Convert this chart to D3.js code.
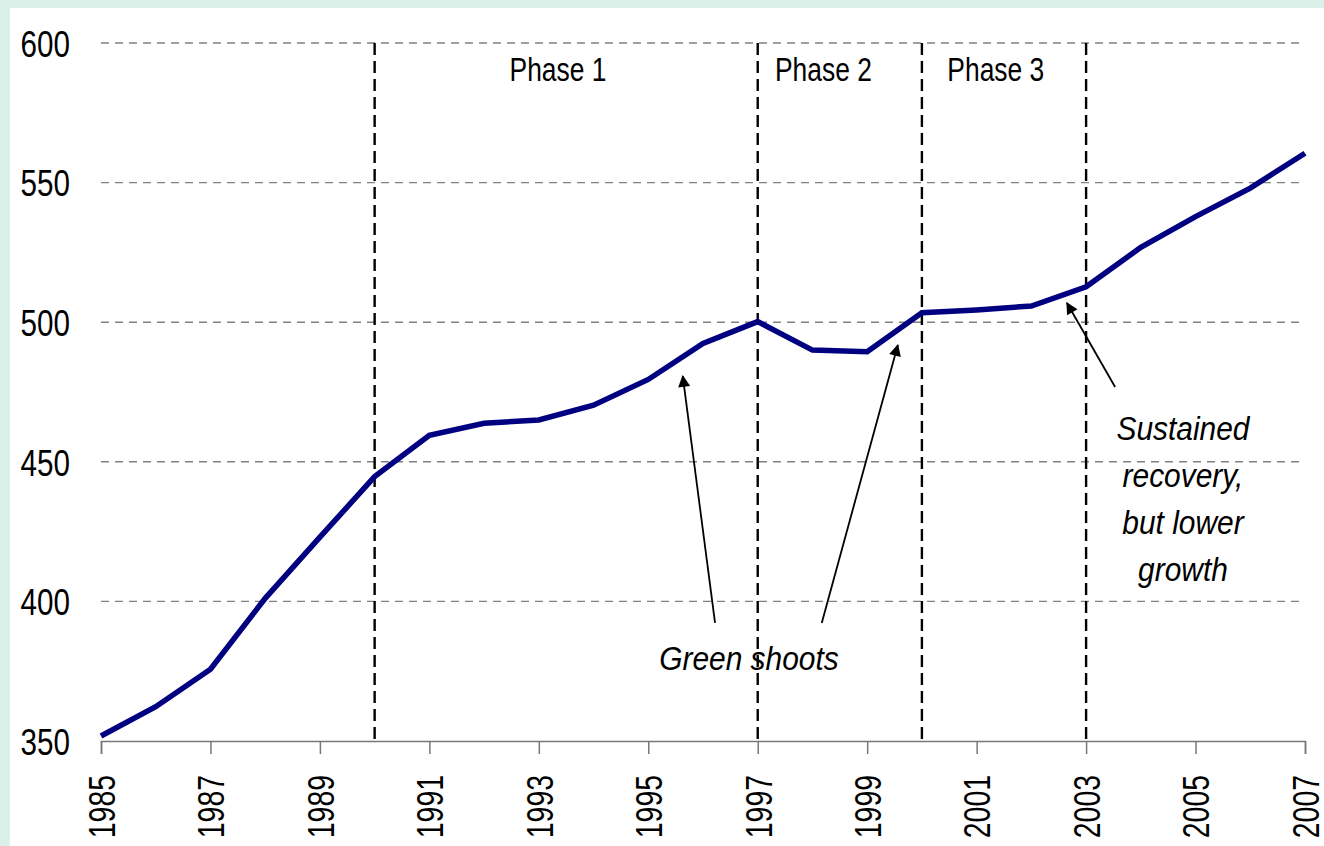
<!DOCTYPE html>
<html>
<head>
<meta charset="utf-8">
<script src="https://cdn.jsdelivr.net/npm/d3@7"></script>
<style>
  html, body { margin: 0; padding: 0; background: #daf0e8; overflow: hidden; }
  #chart { position: absolute; left: 10px; top: 8px; width: 1314px; height: 838px; background: #fff; }
  svg { display: block; }
  text { font-family: "Liberation Sans", Arial, sans-serif; fill: #000; }
</style>
</head>
<body>
<div id="chart"></div>
<script>
// data
const years = d3.range(1985, 2008);
const values = [351.8, 362.3, 375.7, 401.1, 423, 444.7, 459.5, 463.8, 465, 470.3, 479.5, 492.4,
                500.2, 490, 489.4, 503.4, 504.4, 505.8, 512.7, 526.8, 537.8, 548, 560.5];
const yTicks = [350, 400, 450, 500, 550, 600];
const xTicks = d3.range(1985, 2008, 2);
const phaseBreaks = [1990, 1997, 2000, 2003];
const phaseLabels = ["Phase 1", "Phase 2", "Phase 3"];
const phaseLabelYears = [1993.35, 1998.2, 2001.35];
const shootsArrows = [{from: [1996.22, 392.3], to: [1995.63, 480.7]}, {from: [1998.17, 392.3], to: [1999.56, 491.8]}];
const recoveryArrow = {from: [2003.53, 476.8], to: [2002.65, 506.9]};
const recoveryLines = ["Sustained", "recovery,", "but lower", "growth"];

const width = 1314, height = 838;
const margin = {top: 35, right: 19, bottom: 105, left: 91};
const w = width - margin.left - margin.right;
const h = height - margin.top - margin.bottom;

// the original uses a condensed face, so squeeze the text horizontally
const squeeze = 0.8;

let svg = d3.select("#chart").append("svg")
    .attr("width", width)
    .attr("height", height);

svg.append("defs").append("marker")
    .attr("id", "arrow")
    .attr("viewBox", "0 0 10 10")
    .attr("refX", 9).attr("refY", 5)
    .attr("markerWidth", 14).attr("markerHeight", 12)
    .attr("markerUnits", "userSpaceOnUse")
    .attr("orient", "auto")
    .append("path")
    .attr("d", "M0,0 L10,5 L0,10 z")
    .attr("fill", "#000");

let g = svg.append("g").attr("transform", `translate(${margin.left}, ${margin.top})`);

let x = d3.scaleLinear().domain([1985, 2007]).range([0, w]);
let y = d3.scaleLinear().domain([350, 600]).range([h, 0]);

// horizontal gridlines
g.append("g").selectAll("line")
    .data(yTicks.filter(d => d > 350))
    .enter().append("line")
    .attr("x1", 0).attr("x2", w)
    .attr("y1", d => y(d)).attr("y2", d => y(d))
    .attr("stroke", "#808080")
    .attr("stroke-width", 1.4)
    .attr("stroke-dasharray", "8,6");

// phase separators
g.append("g").selectAll("line")
    .data(phaseBreaks)
    .enter().append("line")
    .attr("x1", d => x(d)).attr("x2", d => x(d))
    .attr("y1", y(600)).attr("y2", h)
    .attr("stroke", "#000")
    .attr("stroke-width", 2.4)
    .attr("stroke-dasharray", "12,6");

// y axis
let yAxis = g.append("g")
    .call(d3.axisLeft(y).tickValues(yTicks).tickSize(0));
yAxis.select(".domain").remove();
yAxis.selectAll("text")
    .style("font-size", "37px")
    .style("font-family", "\"Liberation Sans\", Arial, sans-serif")
    .attr("x", 0)
    .attr("dy", "0.36em")
    .attr("transform", `translate(-31, 0) scale(${squeeze}, 1)`);

// x axis
let xAxis = g.append("g")
    .attr("transform", `translate(0, ${h})`)
    .call(d3.axisBottom(x).tickValues(xTicks).tickFormat(d3.format("d")).tickSize(13));
xAxis.select(".domain").attr("stroke", "#777").attr("stroke-width", 1.5);
xAxis.selectAll(".tick line").attr("stroke", "#777").attr("stroke-width", 1.5);
xAxis.selectAll("text")
    .style("font-size", "37px")
    .style("font-family", "\"Liberation Sans\", Arial, sans-serif")
    .style("text-anchor", "end")
    .attr("x", 0)
    .attr("y", 0)
    .attr("dy", "0.36em")
    .attr("transform", `translate(0, 34) rotate(-90) scale(${squeeze * 0.96}, 1)`);

// series
let line = d3.line().x((d, i) => x(years[i])).y(d => y(d));
g.append("path")
    .datum(values)
    .attr("fill", "none")
    .attr("stroke", "#000080")
    .attr("stroke-width", 5.5)
    .attr("stroke-linejoin", "miter")
    .attr("d", line);

// phase labels
g.append("g").selectAll("text")
    .data(phaseLabels)
    .enter().append("text")
    .attr("transform", (d, i) => `translate(${x(phaseLabelYears[i])}, 38) scale(${squeeze}, 1)`)
    .style("text-anchor", "middle")
    .style("font-size", "33px")
    .text(d => d);

// annotation arrows
let arrows = shootsArrows.concat([recoveryArrow]);
g.append("g").selectAll("line")
    .data(arrows)
    .enter().append("line")
    .attr("x1", d => x(d.from[0])).attr("y1", d => y(d.from[1]))
    .attr("x2", d => x(d.to[0])).attr("y2", d => y(d.to[1]))
    .attr("stroke", "#000")
    .attr("stroke-width", 1.8)
    .attr("marker-end", "url(#arrow)");

g.append("text")
    .attr("transform", `translate(${x(1996.84)}, ${y(375.3)}) scale(0.88, 1)`)
    .style("text-anchor", "middle")
    .style("font-size", "34px")
    .style("font-style", "italic")
    .text("Green shoots");

g.append("g").selectAll("text")
    .data(recoveryLines)
    .enter().append("text")
    .attr("transform", (d, i) => `translate(${x(2004.77)}, ${y(457.8) + i * 47}) scale(0.88, 1)`)
    .style("text-anchor", "middle")
    .style("font-size", "34px")
    .style("font-style", "italic")
    .text(d => d);
</script>
</body>
</html>
